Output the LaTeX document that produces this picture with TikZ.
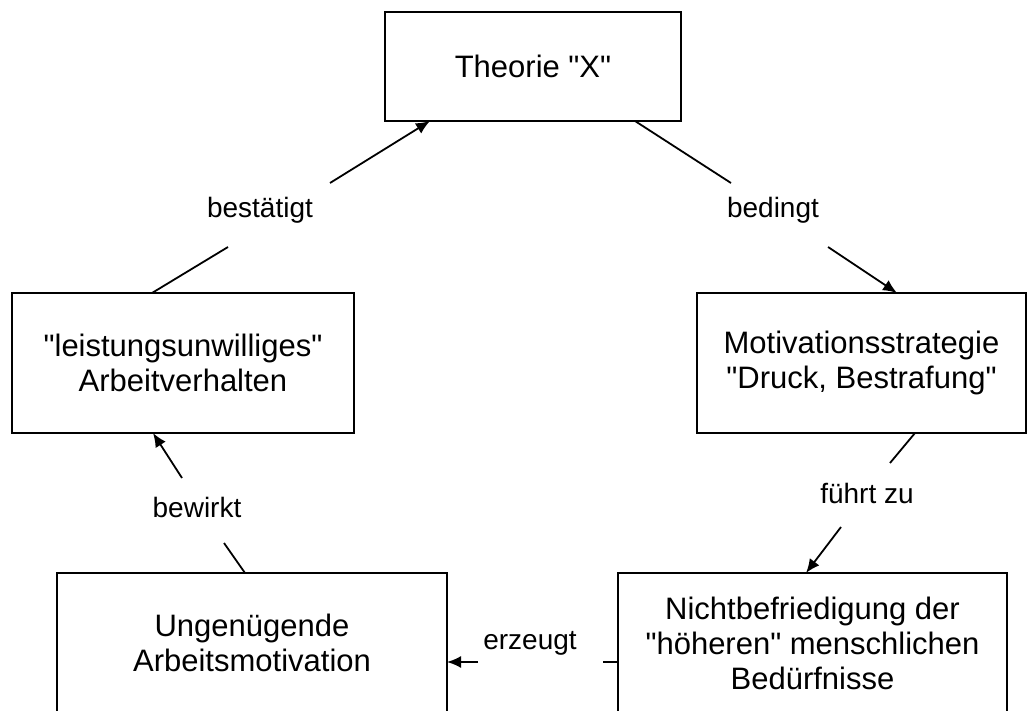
\documentclass[tikz,border=0pt]{standalone}
\usepackage{fontspec}
\setmainfont{Liberation Sans}[Ligatures=TeXOff]
\usetikzlibrary{arrows.meta}
\begin{document}
\begin{tikzpicture}[x=0.5pt,y=-0.5pt,
  box/.style={draw, line width=1pt, align=center, font=\fontsize{15.5}{17.5}\selectfont, inner sep=0pt},
  lab/.style={font=\fontsize{14}{16}\selectfont, inner sep=0pt},
  conn/.style={line width=0.9pt},
  arr/.style={conn, -{Latex[length=7pt,width=6pt]}}]
\useasboundingbox (0,0) rectangle (1028,711);
\clip (0,0) rectangle (1028,711);
% boxes
\node[box, minimum width=148pt, minimum height=54.5pt] (T) at (533,66.5) {Theorie "X"};
\node[box, minimum width=164.5pt, minimum height=70pt] (M) at (861.5,363) {Motivationsstrategie\\"Druck, Bestrafung"};
\node[box, minimum width=194.5pt, minimum height=70pt] (N) at (812.5,643) {Nichtbefriedigung der\\"höheren" menschlichen\\Bedürfnisse};
\node[box, minimum width=195pt, minimum height=70pt] (U) at (252,643) {Ungenügende\\Arbeitsmotivation};
\node[box, minimum width=171pt, minimum height=70pt] (L) at (183,363) {"leistungsunwilliges"\\Arbeitverhalten};
% labels
\node[lab] (lb1) at (260,210) {bestätigt};
\node[lab] (lb2) at (773,210) {bedingt};
\node[lab] (lb3) at (867,493) {führt zu};
\node[lab] (lb4) at (530,643) {erzeugt};
\node[lab] (lb5) at (197,507) {bewirkt};
% connector points
\coordinate (c1s) at (152,293); \coordinate (c1a) at (228,247); \coordinate (c1b) at (330,183); \coordinate (c1e) at (430,121);
\coordinate (c2s) at (635,121); \coordinate (c2a) at (731,183); \coordinate (c2b) at (828,247); \coordinate (c2e) at (897,293);
\coordinate (c3s) at (915,433); \coordinate (c3a) at (890,463); \coordinate (c3b) at (841,527); \coordinate (c3e) at (806,573);
\coordinate (c4s) at (618,662); \coordinate (c4a) at (603,662); \coordinate (c4b) at (478,662); \coordinate (c4e) at (447,662);
\coordinate (c5s) at (245,573); \coordinate (c5a) at (224,543); \coordinate (c5b) at (182,478); \coordinate (c5e) at (153,433);
% connectors
\draw[conn] (c1s) -- (c1a); \draw[arr] (c1b) -- (c1e);
\draw[conn] (c2s) -- (c2a); \draw[arr] (c2b) -- (c2e);
\draw[conn] (c3s) -- (c3a); \draw[arr] (c3b) -- (c3e);
\draw[conn] (c4s) -- (c4a); \draw[arr] (c4b) -- (c4e);
\draw[conn] (c5s) -- (c5a); \draw[arr] (c5b) -- (c5e);
\end{tikzpicture}
\end{document}
